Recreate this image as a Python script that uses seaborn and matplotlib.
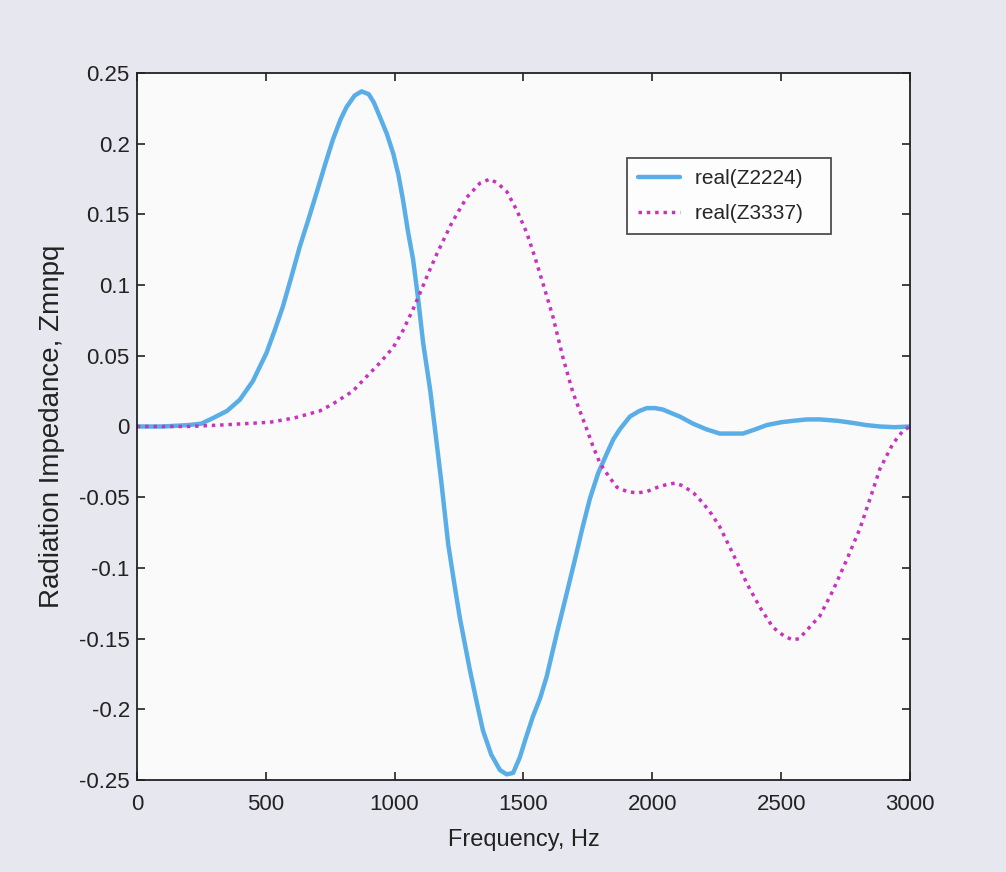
import pandas as pd
import seaborn as sns
import matplotlib.pyplot as plt

# values
freq_a = [0, 100, 200, 250, 296, 350, 400, 450, 503, 535, 567, 600, 632, 665, 697, 730, 761, 790,
          814, 845, 872, 900, 920, 943, 970, 995, 1015, 1033, 1052, 1072, 1091, 1111, 1138, 1157,
          1182, 1208, 1230, 1253, 1292, 1320, 1343, 1375, 1409, 1435, 1460, 1486, 1510, 1537, 1565,
          1590, 1630, 1668, 1700, 1730, 1758, 1790, 1824, 1849, 1874, 1913, 1950, 1979, 2010, 2041,
          2080, 2107, 2158, 2210, 2262, 2352, 2400, 2444, 2500, 2546, 2600, 2650, 2720, 2779, 2830,
          2883, 2940, 3000]
z2224 = [0, 0, 0.001, 0.002, 0.006, 0.011, 0.019, 0.032, 0.052, 0.068, 0.085, 0.106, 0.127, 0.146,
         0.165, 0.185, 0.203, 0.217, 0.226, 0.234, 0.237, 0.235, 0.229, 0.219, 0.207, 0.193, 0.178,
         0.160, 0.138, 0.118, 0.091, 0.059, 0.026, -0.002, -0.040, -0.083, -0.109, -0.135, -0.172,
         -0.196, -0.215, -0.232, -0.243, -0.246, -0.245, -0.234, -0.220, -0.205, -0.192, -0.177,
         -0.146, -0.118, -0.094, -0.071, -0.051, -0.033, -0.019, -0.009, -0.002, 0.007, 0.011,
         0.013, 0.013, 0.012, 0.009, 0.007, 0.002, -0.002, -0.005, -0.005, -0.002, 0.001, 0.003,
         0.004, 0.005, 0.005, 0.004, 0.0025, 0.001, 0.0, -0.0005, 0]

freq_b = [0, 200, 322, 420, 516, 610, 710, 761, 838, 890, 943, 995, 1033, 1072, 1098, 1130, 1164,
          1222, 1280, 1331, 1370, 1400, 1436, 1474, 1513, 1544, 1576, 1614, 1653, 1692, 1746, 1770,
          1797, 1830, 1863, 1902, 1940, 1979, 2020, 2057, 2090, 2119, 2160, 2196, 2230, 2262, 2313,
          2367, 2418, 2468, 2510, 2545, 2570, 2600, 2650, 2701, 2755, 2806, 2856, 2883, 2934, 2973,
          3000]
z3337 = [0, 0, 0.001, 0.002, 0.003, 0.006, 0.011, 0.016, 0.025, 0.035, 0.045, 0.056, 0.068, 0.083,
         0.094, 0.108, 0.122, 0.144, 0.162, 0.172, 0.175, 0.172, 0.166, 0.153, 0.137, 0.120, 0.101,
         0.078, 0.049, 0.024, -0.002, -0.014, -0.026, -0.035, -0.043, -0.046, -0.047, -0.046,
         -0.043, -0.041, -0.040, -0.042, -0.047, -0.054, -0.062, -0.071, -0.090, -0.111, -0.128,
         -0.142, -0.148, -0.151, -0.150, -0.144, -0.134, -0.116, -0.094, -0.072, -0.045, -0.030,
         -0.012, -0.003, 0]

df = pd.concat([
    pd.DataFrame({"freq": freq_a, "z": z2224, "series": "real(Z2224)"}),
    pd.DataFrame({"freq": freq_b, "z": z3337, "series": "real(Z3337)"}),
])

sns.set_style("ticks")
plt.rcParams["font.family"] = ["Liberation Sans", "DejaVu Sans"]

fig = plt.figure(figsize=(10.06, 8.72), dpi=100, facecolor="#e7e7ef")
ax = fig.add_axes([0.136, 0.1055, 0.7686, 0.8108])
ax.set_facecolor("#fafafa")

palette = {"real(Z2224)": "#5aaee8", "real(Z3337)": "#c832c0"}
sns.lineplot(data=df, x="freq", y="z", hue="series", style="series", palette=palette,
             dashes={"real(Z2224)": "", "real(Z3337)": (1, 1.4)}, ax=ax, sort=False)
ax.lines[0].set_linewidth(3.2)
ax.lines[1].set_linewidth(2.5)

ax.set_xlim(0, 3000)
ax.set_ylim(-0.25, 0.25)
ax.set_xticks([0, 500, 1000, 1500, 2000, 2500, 3000])
ax.set_yticks([-0.25, -0.2, -0.15, -0.1, -0.05, 0, 0.05, 0.1, 0.15, 0.2, 0.25])
ax.set_yticklabels(["-0.25", "-0.2", "-0.15", "-0.1", "-0.05", "0", "0.05", "0.1", "0.15", "0.2", "0.25"])
ax.tick_params(direction="in", length=6, width=1.2, labelsize=16, colors="#222222",
               top=True, right=True, pad=5)
ax.tick_params(axis="x", pad=10)
for s in ax.spines.values():
    s.set_color("#222222")
    s.set_linewidth(1.3)

ax.set_xlabel("Frequency, Hz", fontsize=17, color="#222222", labelpad=10)
ax.set_ylabel("Radiation Impedance, Zmnpq", fontsize=20, color="#222222", labelpad=10)

handles, labels = ax.get_legend_handles_labels()
leg = ax.legend(handles, [l + "   " for l in labels], loc="upper left",
                bbox_to_anchor=(0.634, 0.88), fontsize=15, frameon=True,
                fancybox=False, edgecolor="#222222", handlelength=2.0, borderpad=0.55,
                labelspacing=0.75, handletextpad=0.7, borderaxespad=0)
leg.get_frame().set_linewidth(1.3)
leg.get_frame().set_facecolor("white")
leg.get_lines()[0].set_linewidth(3.2)
leg.get_lines()[1].set_linewidth(2.5)

fig.savefig("out.png", dpi=100, facecolor=fig.get_facecolor())
